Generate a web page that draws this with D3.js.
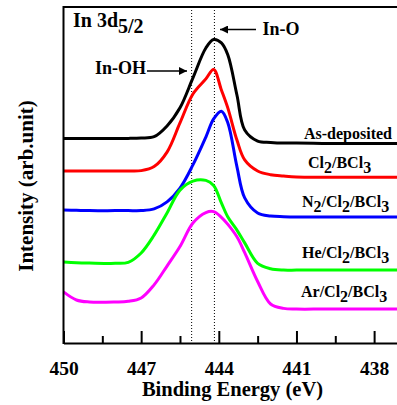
<!DOCTYPE html>
<html><head><meta charset="utf-8">
<script src="https://cdn.jsdelivr.net/npm/d3@7"></script>
<style>
html,body{margin:0;padding:0;background:#fff;}
svg text{font-family:"Liberation Serif","Times New Roman",serif;font-weight:bold;fill:#000;}
</style></head><body>
<svg id="c" width="397" height="405"></svg>
<script>
// ---- data (binding energy in eV, intensity in arb. units, curves offset as in the figure)
const energies = [450, 449.5, 449, 448, 447.5, 447, 446.5, 446, 445.5, 445, 444.5, 444.2, 443.9, 443.65, 443.3, 443, 442.5, 442, 441.5, 441, 440, 439, 438, 437];
const asDeposited = [60.9, 60.9, 60.9, 60.9, 60.9, 61.0, 61.4, 64.6, 70.0, 78.9, 87.8, 90.3, 89.3, 85.7, 73.8, 63.4, 60.1, 59.7, 59.5, 59.5, 59.4, 59.4, 59.4, 59.4];
const cl2bcl3 = [51.2, 51.2, 51.2, 51.2, 51.2, 51.3, 52.5, 56.8, 65.5, 74.1, 78.6, 81.4, 75.3, 69.9, 60.4, 54.5, 51.2, 50.1, 49.7, 49.4, 49.3, 49.3, 49.3, 49.3];
const n2cl2bcl3 = [39.6, 39.5, 39.4, 39.4, 39.4, 39.4, 39.9, 42.0, 46.1, 53.0, 61.3, 66.7, 69.0, 65.5, 52.5, 43.2, 38.7, 37.8, 37.6, 37.5, 37.5, 37.5, 37.5, 37.5];
const hecl2bcl3 = [24.1, 23.9, 23.8, 23.7, 24.0, 26.8, 32.1, 38.7, 45.5, 48.2, 48.4, 46.9, 41.7, 37.5, 33.6, 29.8, 23.7, 22.1, 21.7, 21.7, 21.7, 21.7, 21.7, 21.7];
const arcl2bcl3 = [15.2, 12.8, 12.2, 12.2, 12.4, 13.4, 17.3, 22.9, 28.7, 35.7, 38.8, 39.1, 37.4, 35.3, 31.6, 26.9, 18.3, 11.6, 10.3, 10.1, 10.1, 10.1, 10.1, 10.1];
const seriesNames = ["As-deposited", "Cl_2/BCl_3", "N_2/Cl_2/BCl_3", "He/Cl_2/BCl_3", "Ar/Cl_2/BCl_3"];
const seriesValues = [asDeposited, cl2bcl3, n2cl2bcl3, hecl2bcl3, arcl2bcl3];
const seriesColors = ["#000000", "#ff0000", "#0000ff", "#00ff00", "#ff00ff"];
const labelAnchors = [[304, 60.6], [308, 52.0], [302, 40.4], [302, 25.3], [301, 13.8]]; // [x px, intensity]
const majorTicks = [450, 447, 444, 441, 438];
const minorTicks = [448.5, 445.5, 442.5, 439.5];
const refLines = [445.05, 444.17]; // In-OH, In-O
const xDomain = [450, 437];
const yDomain = [0, 100];

// ---- layout
const svg = d3.select("#c");
const L = 63.5, R = 400, T = 7, B = 343;
const x = d3.scaleLinear().domain(xDomain).range([L, R]);
const y = d3.scaleLinear().domain(yDomain).range([B, T]);

// reference dotted lines
svg.selectAll("line.ref").data(refLines).join("line")
  .attr("x1", d => x(d)).attr("x2", d => x(d)).attr("y1", T).attr("y2", B)
  .attr("stroke", "#000").attr("stroke-width", 1).attr("stroke-dasharray", "1,2");

// curves
const line = d3.line().x((d, i) => x(energies[i])).y(d => y(d)).curve(d3.curveCatmullRom.alpha(0.5));
svg.selectAll("path.curve").data(seriesValues).join("path")
  .attr("fill", "none").attr("stroke", (d, i) => seriesColors[i]).attr("stroke-width", 3)
  .attr("stroke-linejoin", "round").attr("d", line);

// frame
svg.append("line").attr("x1", L).attr("x2", R).attr("y1", T).attr("y2", T).attr("stroke", "#000").attr("stroke-width", 2);
svg.append("line").attr("x1", L).attr("x2", L).attr("y1", T - 1).attr("y2", B + 1).attr("stroke", "#000").attr("stroke-width", 2);

// bottom axis with inward ticks
const axis = d3.axisBottom(x).tickValues(majorTicks).tickSizeInner(-12).tickSizeOuter(0).tickPadding(20).tickFormat(d3.format("d"));
const gx = svg.append("g").attr("transform", `translate(0,${B})`).call(axis);
gx.select(".domain").attr("stroke-width", 2.2);
gx.selectAll(".tick line").attr("stroke-width", 2);
gx.selectAll(".tick text").attr("font-size", 19.5).attr("font-family", null).attr("y", 31.5).attr("dy", 0);
const minorAxis = d3.axisBottom(x).tickValues(minorTicks).tickSizeInner(-7).tickSizeOuter(0).tickFormat("");
const gm = svg.append("g").attr("transform", `translate(0,${B})`).call(minorAxis);
gm.select(".domain").remove();
gm.selectAll(".tick line").attr("stroke-width", 2);

// axis titles
svg.append("text").attr("x", 232.5).attr("y", 395.5).attr("text-anchor", "middle").attr("font-size", 20.5).text("Binding Energy (eV)");
svg.append("text").attr("transform", "translate(33,186) rotate(-90)").attr("text-anchor", "middle").attr("font-size", 21).text("Intensity (arb.unit)");

// helper for subscripts
function richText(sel, str, size, subSize) {
  const parts = str.split(/_(\d)/);
  parts.forEach((p, i) => {
    if (p === "") return;
    const sub = i % 2 === 1;
    sel.append("tspan").attr("font-size", sub ? subSize : size)
      .attr("dy", sub ? 5 : (i > 0 ? -5 : 0)).text(p);
  });
}

// series labels
seriesNames.forEach((n, i) => {
  const t = svg.append("text").attr("x", labelAnchors[i][0]).attr("y", y(labelAnchors[i][1]));
  richText(t, n, 16, 16);
});

// panel label
const pl = svg.append("text").attr("x", 73).attr("y", 27);
pl.append("tspan").attr("font-size", 20).text("In 3d");
pl.append("tspan").attr("font-size", 20).attr("dy", 6).text("5/2");

// peak annotations
const defs = svg.append("defs");
defs.append("marker").attr("id", "ah").attr("viewBox", "0 0 10 10").attr("refX", 10).attr("refY", 5)
  .attr("markerWidth", 12).attr("markerHeight", 8).attr("markerUnits", "userSpaceOnUse").attr("orient", "auto")
  .append("path").attr("d", "M0,0 L10,5 L0,10 z").attr("fill", "#000");
svg.append("text").attr("x", 95).attr("y", 74).attr("font-size", 18).text("In-OH");
svg.append("line").attr("x1", 147).attr("x2", 187).attr("y1", 71).attr("y2", 71).attr("stroke", "#000").attr("stroke-width", 1.5).attr("marker-end", "url(#ah)");
svg.append("text").attr("x", 262.5).attr("y", 35).attr("font-size", 18).text("In-O");
svg.append("line").attr("x1", 256).attr("x2", 220).attr("y1", 29.5).attr("y2", 29.5).attr("stroke", "#000").attr("stroke-width", 1.5).attr("marker-end", "url(#ah)");
</script>
</body></html>
